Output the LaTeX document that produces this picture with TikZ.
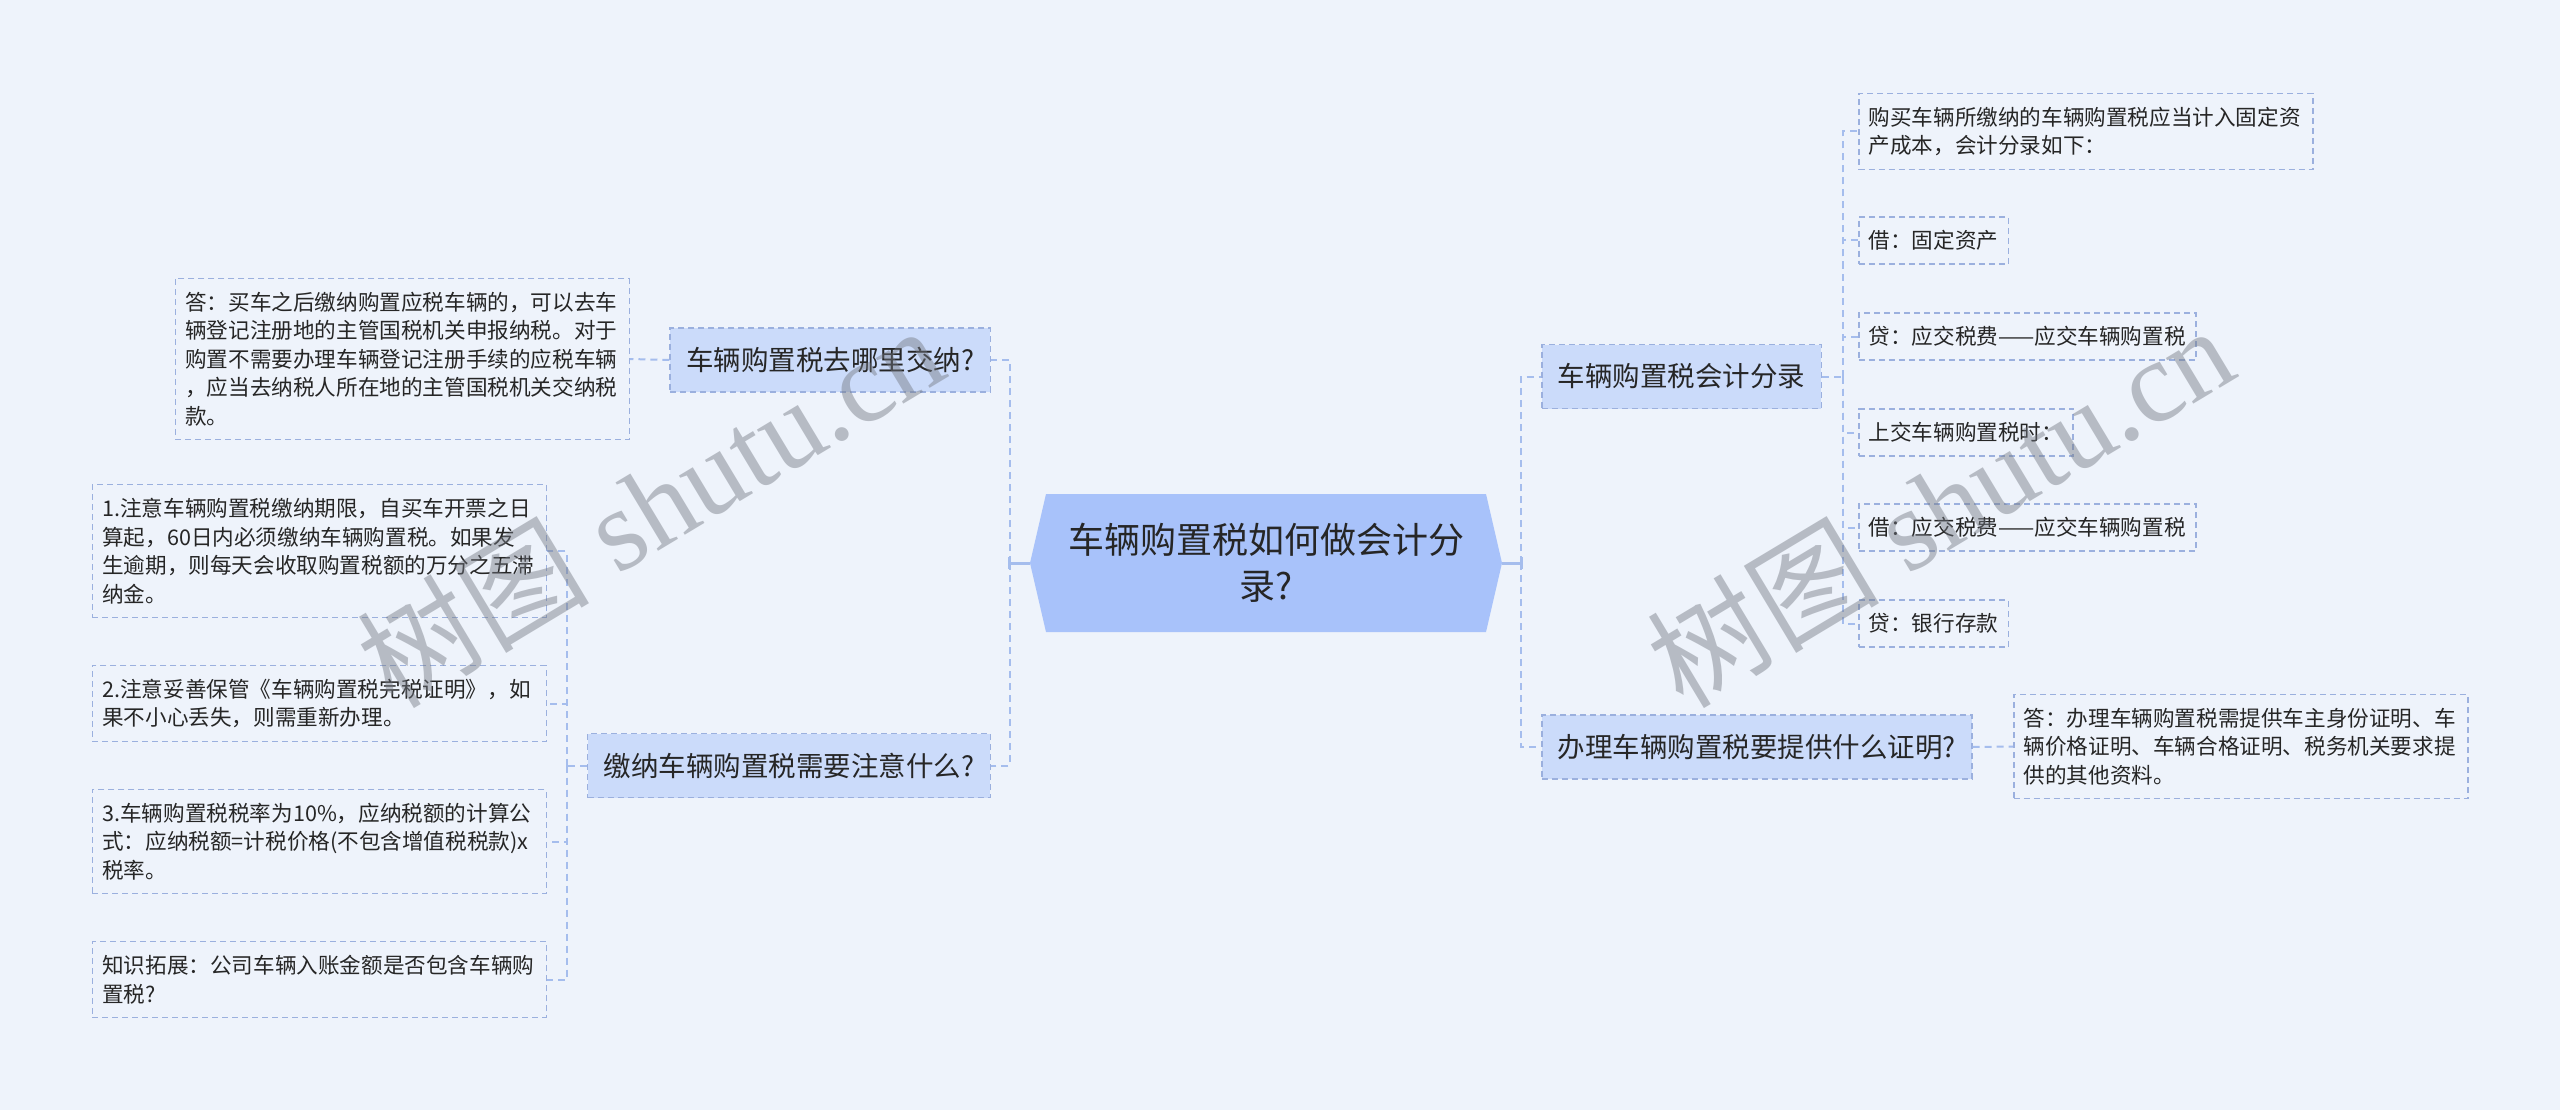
\documentclass[tikz,border=0pt]{standalone}
\usepackage{fontspec}
\newfontfamily\cjk{Noto Sans CJK SC}
\newfontfamily\wmfont{Liberation Serif}
\definecolor{BgClr}{rgb}{0.933,0.953,0.984}
\definecolor{RootClr}{rgb}{0.659,0.761,0.980}
\definecolor{BranchClr}{rgb}{0.796,0.859,0.980}
\definecolor{EdgeClr}{rgb}{0.608,0.690,0.871}
\definecolor{LinkClr}{rgb}{0.647,0.741,0.929}
\definecolor{TextClr}{rgb}{0.15,0.15,0.15}
\definecolor{MarkClr}{rgb}{0.45,0.47,0.51}

\begin{document}
\begin{tikzpicture}[x=1pt,y=-1pt,
  rootbox/.style={minimum width=472pt,minimum height=138pt,inner sep=0pt,align=center,
    text=TextClr,font=\cjk\fontsize{36}{46}\selectfont,fill=BgClr,
    path picture={\fill[RootClr] (path picture bounding box.west)
      -- ([xshift=16pt]path picture bounding box.north west)
      -- ([xshift=-16pt]path picture bounding box.north east)
      -- (path picture bounding box.east)
      -- ([xshift=-16pt]path picture bounding box.south east)
      -- ([xshift=16pt]path picture bounding box.south west) -- cycle;}},
  branchbox/.style={fill=BranchClr,draw=EdgeClr,line width=1.5pt,dash pattern=on 6pt off 4pt,
    inner xsep=16pt,minimum height=64pt,text=TextClr,font=\cjk\fontsize{27.5}{34}\selectfont},
  leafbox/.style={draw=EdgeClr,line width=1.5pt,dash pattern=on 6pt off 4pt,
    inner xsep=10pt,inner ysep=13.5pt,align=left,text=TextClr,font=\cjk\fontsize{21.6}{28.5}\selectfont},
  widebox/.style={leafbox,text width=434pt},
  linkline/.style={LinkClr,line width=2pt,dash pattern=on 7pt off 5pt},
  stubline/.style={LinkClr,line width=3pt},
  wmark/.style={text=MarkClr,text opacity=0.45,font=\wmfont\fontsize{116}{116}\selectfont}]

\useasboundingbox (0,0) rectangle (2560,1110);
\fill[BgClr] (0,0) rectangle (2560,1110);

\node[rootbox] (root) at (1266,563) {车辆购置税如何做会计分\\录?};

\node[branchbox,anchor=east] (where) at (991,360) {车辆购置税去哪里交纳?};
\node[branchbox,anchor=east] (note) at (991,765.5) {缴纳车辆购置税需要注意什么?};
\node[branchbox,anchor=west] (entry) at (1541,376.5) {车辆购置税会计分录};
\node[branchbox,anchor=west] (proof) at (1541,747) {办理车辆购置税要提供什么证明?};

\node[widebox,anchor=east] (whereA) at (630,359) {答：买车之后缴纳购置应税车辆的，可以去车\\辆登记注册地的主管国税机关申报纳税。对于\\购置不需要办理车辆登记注册手续的应税车辆\\，应当去纳税人所在地的主管国税机关交纳税\\款。};

\node[widebox,anchor=east] (note1) at (547,551) {1.注意车辆购置税缴纳期限，自买车开票之日\\算起，60日内必须缴纳车辆购置税。如果发\\生逾期，则每天会收取购置税额的万分之五滞\\纳金。};
\node[widebox,anchor=east] (note2) at (547,703.5) {2.注意妥善保管《车辆购置税完税证明》，如\\果不小心丢失，则需重新办理。};
\node[widebox,anchor=east] (note3) at (547,841.5) {3.车辆购置税税率为10\%，应纳税额的计算公\\式：应纳税额=计税价格(不包含增值税税款)x\\税率。};
\node[widebox,anchor=east] (note4) at (547,979.5) {知识拓展：公司车辆入账金额是否包含车辆购\\置税?};

\node[widebox,anchor=west] (entry1) at (1858,131.5) {购买车辆所缴纳的车辆购置税应当计入固定资\\产成本，会计分录如下：};
\node[leafbox,anchor=west] (entry2) at (1858,240.5) {借：固定资产};
\node[leafbox,anchor=west] (entry3) at (1858,336.5) {贷：应交税费——应交车辆购置税};
\node[leafbox,anchor=west] (entry4) at (1858,432.5) {上交车辆购置税时：};
\node[leafbox,anchor=west] (entry5) at (1858,527.5) {借：应交税费——应交车辆购置税};
\node[leafbox,anchor=west] (entry6) at (1858,623.5) {贷：银行存款};

\node[widebox,anchor=west] (proof1) at (2013,746.5) {答：办理车辆购置税需提供车主身份证明、车\\辆价格证明、车辆合格证明、税务机关要求提\\供的其他资料。};

\draw[stubline] (root.west) -- ++(-20,0) coordinate (lj);
\draw[stubline] ([yshift=-6pt]lj) -- ([yshift=6pt]lj);
\draw[linkline] (lj) |- (where.east);
\draw[linkline] (lj) |- (note.east);

\draw[stubline] (root.east) -- ++(19,0) coordinate (rj);
\draw[stubline] ([yshift=-6pt]rj) -- ([yshift=6pt]rj);
\draw[linkline] (rj) |- (entry.west);
\draw[linkline] (rj) |- (proof.west);

\draw[linkline] (where.west) -- (whereA.east);
\draw[linkline] (note.west) -- ++(-20,0) coordinate (nj);
\foreach \i in {1,...,4} \draw[linkline] (nj) |- (note\i.east);
\draw[linkline] (entry.east) -- ++(21,0) coordinate (ej);
\foreach \i in {1,...,6} \draw[linkline] (ej) |- (entry\i.west);
\draw[linkline] (proof.east) -- (proof1.west);

% watermark
\node[wmark,rotate=31] (wmL) at (650,505) {{\cjk 树图} shutu.cn};
\node[wmark,rotate=31] (wmR) at (1940,505) {{\cjk 树图} shutu.cn};

\end{tikzpicture}
\end{document}
